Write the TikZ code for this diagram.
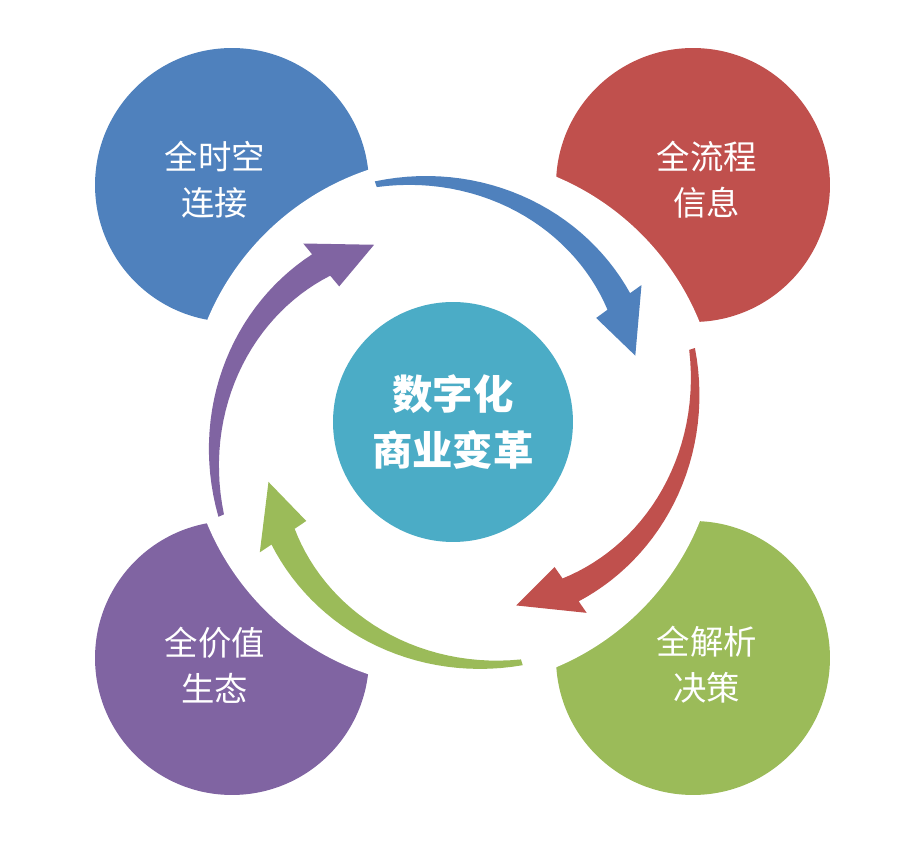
\documentclass[tikz,border=0pt]{standalone}
\usepackage{fontspec}
\newfontfamily\cjk{Noto Sans CJK SC}
\definecolor{blueC}{HTML}{4F81BD}
\definecolor{redC}{HTML}{C0504D}
\definecolor{greenC}{HTML}{9BBB59}
\definecolor{purpleC}{HTML}{8064A2}
\definecolor{cyanC}{HTML}{4BACC6}
\begin{document}
\begin{tikzpicture}[x=0.02cm, y=0.02cm,
  big/.style={circle, minimum size=5.48cm, inner sep=0pt},
  lbl/.style={text=white, font=\cjk\fontsize{19}{26}\selectfont, align=center}]
\useasboundingbox (-453,-422) rectangle (461,422);
\node[big, fill=blueC] (b) at (-221,237) {};
\node[big, fill=redC] (r) at (240,237) {};
\node[big, fill=greenC] (g) at (240,-236) {};
\node[big, fill=purpleC] (p) at (-221,-236) {};
\fill[white] (0,0) circle (266);
\foreach \a/\c in {108/blueC, 17/redC, -74/greenC, 202/purpleC}
  \fill[\c] plot[domain=0:1, samples=30, variable=\s] ({\a-72*\s}:{253-34*\s})
    -- ({\a-72}:{233}) -- ({\a-88}:{194}) -- ({\a-72}:{177})
    -- plot[domain=1:0, samples=30, variable=\s] ({\a-72*\s}:{247-56*\s}) -- cycle;
\node[circle, fill=cyanC, minimum size=4.8cm, inner sep=0pt] (c) at (0,0) {};
\node[lbl, font=\cjk\bfseries\fontsize{23}{32}\selectfont] at (c) {数字化\\商业变革};
\node[lbl] at (-238,242) {全时空\\连接};
\node[lbl] at (254,242) {全流程\\信息};
\node[lbl] at (254,-243) {全解析\\决策};
\node[lbl] at (-238,-243) {全价值\\生态};
\end{tikzpicture}
\end{document}
